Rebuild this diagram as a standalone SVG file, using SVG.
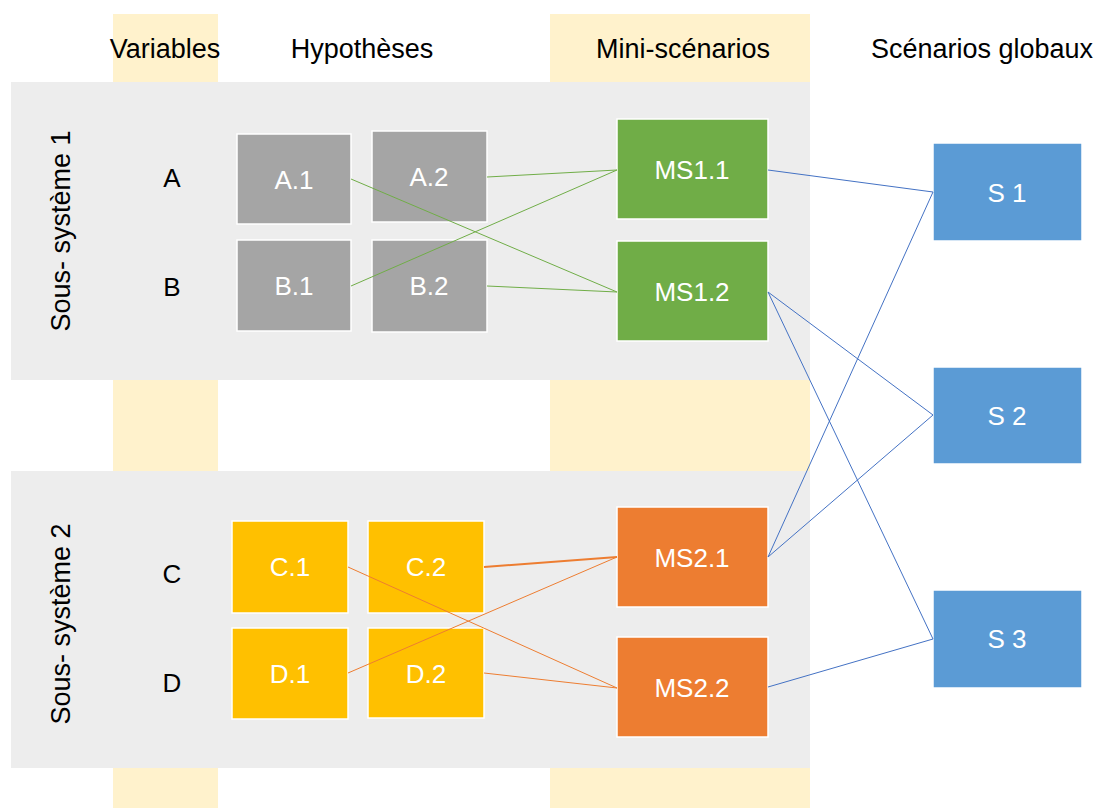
<svg xmlns="http://www.w3.org/2000/svg" width="1094" height="808" viewBox="0 0 1094 808">
<style>
  text { font-family: "Liberation Sans", Arial, sans-serif; font-size: 26px; }
  .hdr { fill: #000; text-anchor: middle; font-size: 27px; }
  .var { fill: #000; text-anchor: middle; }
  .lbl { fill: #fff; text-anchor: middle; }
  .band { fill: #fff2cc; }
  .panel { fill: #ededed; }
  .box { stroke: #fff; stroke-width: 1.5; }
  .gray { fill: #a5a5a5; }
  .green { fill: #70ad47; }
  .yellow { fill: #ffc000; }
  .orange { fill: #ed7d31; }
  .blue { fill: #5b9bd5; }
  .lg { stroke: #70ad47; stroke-width: 1; fill: none; }
  .lo { stroke: #ed7d31; stroke-width: 1; fill: none; }
  .lb { stroke: #4472c4; stroke-width: 1; fill: none; }
</style>
<rect width="1094" height="808" fill="#fff"/>
<g id="background">
  <rect class="band" x="113" y="14" width="105" height="794"/>
  <rect class="band" x="550" y="14" width="260" height="794"/>
  <rect class="panel" x="11" y="82" width="799" height="298"/>
  <rect class="panel" x="11" y="471" width="799" height="297"/>
</g>
<g id="headers">
  <text class="hdr" x="165" y="58">Variables</text>
  <text class="hdr" x="362" y="58">Hypothèses</text>
  <text class="hdr" x="683" y="58">Mini-scénarios</text>
  <text class="hdr" x="982" y="58">Scénarios globaux</text>
</g>
<g id="subsystems">
  <text class="hdr" transform="translate(70,231) rotate(-90)">Sous- système 1</text>
  <text class="hdr" transform="translate(70,624) rotate(-90)">Sous- système 2</text>
</g>
<g id="variables">
  <text class="var" x="172" y="187">A</text>
  <text class="var" x="172" y="296">B</text>
  <text class="var" x="172" y="583">C</text>
  <text class="var" x="172" y="692">D</text>
</g>
<g id="A1"><rect class="box gray" x="237" y="134" width="114" height="90"/><text class="lbl" x="294" y="189">A.1</text></g>
<g id="A2"><rect class="box gray" x="372" y="131" width="115" height="91"/><text class="lbl" x="429" y="186">A.2</text></g>
<g id="B1"><rect class="box gray" x="237" y="240" width="114" height="91"/><text class="lbl" x="294" y="295">B.1</text></g>
<g id="B2"><rect class="box gray" x="372" y="240" width="115" height="92"/><text class="lbl" x="429" y="295">B.2</text></g>
<g id="MS11"><rect class="box green" x="617" y="119" width="151" height="100"/><text class="lbl" x="692" y="179">MS1.1</text></g>
<g id="MS12"><rect class="box green" x="617" y="241" width="151" height="100"/><text class="lbl" x="692" y="301">MS1.2</text></g>
<g id="C1"><rect class="box yellow" x="232" y="521" width="116" height="92"/><text class="lbl" x="290" y="576">C.1</text></g>
<g id="C2"><rect class="box yellow" x="368" y="521" width="116" height="92"/><text class="lbl" x="426" y="576">C.2</text></g>
<g id="D1"><rect class="box yellow" x="232" y="628" width="116" height="91"/><text class="lbl" x="290" y="683">D.1</text></g>
<g id="D2"><rect class="box yellow" x="368" y="628" width="116" height="90"/><text class="lbl" x="426" y="683">D.2</text></g>
<g id="MS21"><rect class="box orange" x="617" y="507" width="151" height="100"/><text class="lbl" x="692" y="567">MS2.1</text></g>
<g id="MS22"><rect class="box orange" x="617" y="637" width="151" height="100"/><text class="lbl" x="692" y="697">MS2.2</text></g>
<g id="S1"><rect class="box blue" x="933" y="143" width="149" height="98"/><text class="lbl" x="1007" y="202">S 1</text></g>
<g id="S2"><rect class="box blue" x="933" y="367" width="149" height="97"/><text class="lbl" x="1007" y="425">S 2</text></g>
<g id="S3"><rect class="box blue" x="933" y="590" width="149" height="98"/><text class="lbl" x="1007" y="648">S 3</text></g>
<g id="connectors">
  <line class="lg" x1="351" y1="179" x2="617" y2="292"/>
  <line class="lg" x1="487" y1="177" x2="617" y2="170"/>
  <line class="lg" x1="351" y1="286" x2="617" y2="170"/>
  <line class="lg" x1="487" y1="286" x2="617" y2="292"/>
  <line class="lo" x1="348" y1="567" x2="617" y2="688"/>
  <line class="lo" x1="484" y1="567" x2="617" y2="557" style="stroke-width:2"/>
  <line class="lo" x1="348" y1="673" x2="617" y2="557"/>
  <line class="lo" x1="484" y1="673" x2="617" y2="688"/>
  <line class="lb" x1="768" y1="170" x2="933" y2="192"/>
  <line class="lb" x1="933" y1="192" x2="768" y2="557"/>
  <line class="lb" x1="768" y1="292" x2="933" y2="415"/>
  <line class="lb" x1="768" y1="292" x2="933" y2="639"/>
  <line class="lb" x1="768" y1="557" x2="933" y2="415"/>
  <line class="lb" x1="768" y1="687" x2="933" y2="639"/>
</g>
</svg>
